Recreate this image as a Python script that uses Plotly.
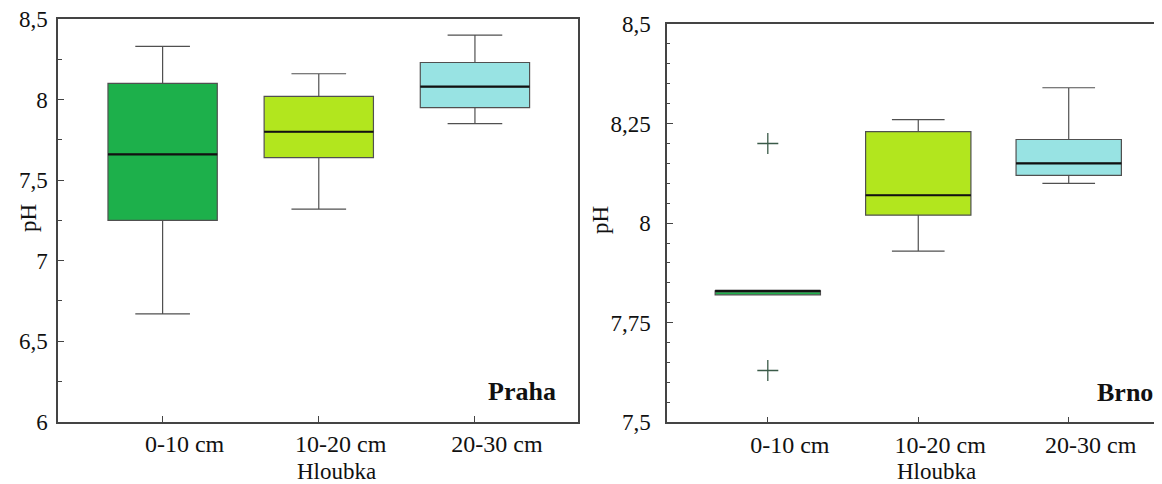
import plotly.graph_objects as go

categories = ["0-10 cm", "10-20 cm", "20-30 cm"]
positions = [0, 1, 2]
colors = ["#1DB04B", "#B2E61E", "#98E3E3"]

# Praha
praha_lower = [6.67, 7.32, 7.85]
praha_q1 = [7.25, 7.64, 7.95]
praha_median = [7.66, 7.80, 8.08]
praha_q3 = [8.10, 8.02, 8.23]
praha_upper = [8.33, 8.16, 8.40]

# Brno
brno_lower = [7.82, 7.93, 8.10]
brno_q1 = [7.82, 8.02, 8.12]
brno_median = [7.83, 8.07, 8.15]
brno_q3 = [7.83, 8.23, 8.21]
brno_upper = [7.83, 8.26, 8.34]
brno_outliers_x = [0, 0]
brno_outliers_y = [8.20, 7.63]

praha_yticks = [6, 6.5, 7, 7.5, 8, 8.5]
praha_yticktext = ["6", "6,5", "7", "7,5", "8", "8,5"]
brno_yticks = [7.5, 7.75, 8, 8.25, 8.5]
brno_yticktext = ["7,5", "7,75", "8", "8,25", "8,5"]

# page has an 8px body margin: figure is drawn 8px in from top-left
OFF = 8
W, H = 1162 - OFF, 484 - OFF
BW = 0.7
FONT = "Liberation Serif"

def fx(px):
    return (px - OFF) / W

def fy(py):
    return 1 - (py - OFF) / H

fig = go.Figure()

def add_panel(lower, q1, med, q3, upper, xa, ya):
    for i in range(3):
        fig.add_trace(go.Box(
            x=[positions[i]], q1=[q1[i]], median=[med[i]], q3=[q3[i]],
            lowerfence=[lower[i]], upperfence=[upper[i]],
            width=BW, whiskerwidth=0.5, fillcolor=colors[i],
            line=dict(color="#505050", width=1.2), boxpoints=False,
            xaxis=xa, yaxis=ya, showlegend=False, hoverinfo="skip"))
        fig.add_trace(go.Scatter(
            x=[positions[i] - BW / 2, positions[i] + BW / 2], y=[med[i], med[i]],
            mode="lines", line=dict(color="#111111", width=2.2),
            xaxis=xa, yaxis=ya, showlegend=False, hoverinfo="skip"))

add_panel(praha_lower, praha_q1, praha_median, praha_q3, praha_upper, "x", "y")
add_panel(brno_lower, brno_q1, brno_median, brno_q3, brno_upper, "x2", "y2")

fig.add_trace(go.Scatter(
    x=brno_outliers_x, y=brno_outliers_y, mode="markers",
    marker=dict(symbol="cross-thin", size=15, color="#3a5a48",
                line=dict(width=1.3, color="#3a5a48")),
    xaxis="x2", yaxis="y2", showlegend=False, hoverinfo="skip"))

base = dict(showgrid=False, zeroline=False, showline=True, linecolor="#444444",
            linewidth=1.5, mirror=True, ticks="inside", tickcolor="#444444",
            automargin=False, ticklabeloverflow="allow")
xfont = dict(family=FONT, size=24, color="#111111")
yfont = dict(family=FONT, size=23, color="#111111")

fig.update_layout(
    template="none",
    width=W, height=H, margin=dict(l=0, r=0, t=0, b=0, autoexpand=False),
    plot_bgcolor="white", paper_bgcolor="white",
    font=dict(family=FONT, color="#111111"),
    xaxis=dict(domain=[fx(58), fx(578)], range=[-0.67, 2.66], anchor="y",
               tickvals=positions, ticktext=categories, ticklen=6, ticklabelshift=22,
               tickfont=xfont, **base),
    yaxis=dict(domain=[fy(421.7), fy(19)], range=[6, 8.5], anchor="x",
               tickvals=praha_yticks, ticktext=praha_yticktext, ticklen=6,
               minor=dict(dtick=0.25, ticks="inside", ticklen=4, tickcolor="#444444"),
               ticklabelstandoff=4, tickfont=yfont, **base),
    xaxis2=dict(domain=[fx(667), 1.0], range=[-0.67, 2.62], anchor="y2",
                tickvals=positions, ticktext=categories, ticklen=6, ticklabelshift=22,
                tickfont=xfont, **base),
    yaxis2=dict(domain=[fy(422.3), fy(24)], range=[7.5, 8.5], anchor="x2",
                tickvals=brno_yticks, ticktext=brno_yticktext, ticklen=6,
                minor=dict(dtick=0.05, ticks="inside", ticklen=3, tickcolor="#444444"),
                ticklabelstandoff=10, tickfont=yfont, **base),
)

ann_font = dict(family=FONT, size=23, color="#111111")
fig.add_annotation(text="pH", x=fx(28), y=fy(218), xref="paper", yref="paper",
                   xanchor="center", yanchor="middle",
                   textangle=-90, showarrow=False, font=ann_font)
fig.add_annotation(text="pH", x=fx(600), y=fy(220), xref="paper", yref="paper",
                   xanchor="center", yanchor="middle",
                   textangle=-90, showarrow=False, font=ann_font)
fig.add_annotation(text="Hloubka", x=1, xshift=18, y=fy(471), xref="x", yref="paper",
                   xanchor="center", yanchor="middle", showarrow=False, font=ann_font)
fig.add_annotation(text="Hloubka", x=1, xshift=18, y=fy(471), xref="x2", yref="paper",
                   xanchor="center", yanchor="middle", showarrow=False, font=ann_font)
fig.add_annotation(text="<b>Praha</b>", x=0.962, y=0.075, xref="x domain", yref="y domain",
                   xanchor="right", yanchor="middle", showarrow=False,
                   font=dict(family=FONT, size=26, color="#111111"))
fig.add_annotation(text="<b>Brno</b>", x=0.986, y=0.075, xref="x2 domain", yref="y2 domain",
                   xanchor="right", yanchor="middle", showarrow=False,
                   font=dict(family=FONT, size=26, color="#111111"))

fig.write_html("out.html")
